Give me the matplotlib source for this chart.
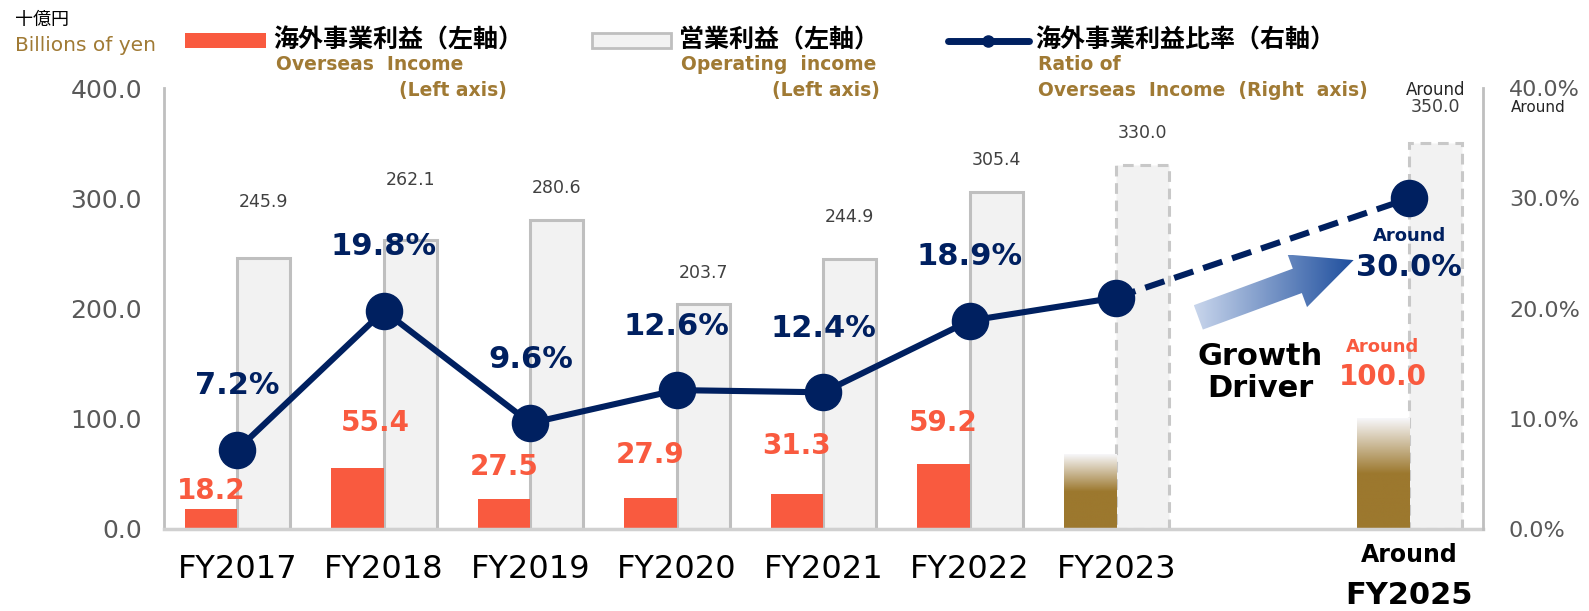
#!/usr/bin/env python3

import matplotlib.pyplot as plt
import numpy as np
from matplotlib.colors import LinearSegmentedColormap
from matplotlib.lines import Line2D
from matplotlib.patches import Polygon, Rectangle
from matplotlib.transforms import blended_transform_factory

categories = ["FY2017", "FY2018", "FY2019", "FY2020", "FY2021", "FY2022", "FY2023", "", "FY2025"]
overseas = [18.2, 55.4, 27.5, 27.9, 31.3, 59.2, 68.0, np.nan, 100.0]       # billions of yen
operating = [245.9, 262.1, 280.6, 203.7, 244.9, 305.4, 330.0, np.nan, 350.0]  # billions of yen
ratio = [7.2, 19.8, 9.6, 12.6, 12.4, 18.9, 21.0, np.nan, 30.0]             # percent
planned = [False, False, False, False, False, False, True, False, True]

RED = "#f95a3f"
GOLD = "#9c782e"
GOLD_TEXT = "#a07a34"
NAVY = "#002060"
GRAY_FILL = "#f2f2f2"
GRAY_EDGE = "#bfbfbf"
TICK = "#595959"

plt.rcParams['font.family'] = ['DejaVu Sans', 'Noto Sans CJK JP']

FADE = LinearSegmentedColormap.from_list("fade", [(0, GOLD), (0.5, GOLD), (1, "#f7f7fa")])
ARROW = LinearSegmentedColormap.from_list("arrow", ["#c9d6ec", "#1f4f9e"])


def fig_xy(x, y):
    """Pixel on the reference picture -> figure fraction."""
    return x / 1568, 1 - y / 603


def gradient_fill(ax, bar):
    """Paint a bar with a gold fade instead of a flat colour."""
    x0, w, h = bar.get_x(), bar.get_width(), bar.get_height()
    ramp = np.linspace(0, 1, 256).reshape(-1, 1)
    ax.imshow(ramp, extent=[x0, x0 + w, 0, h], origin="lower", aspect="auto",
              cmap=FADE, zorder=2)
    bar.set_visible(False)


def gradient_arrow(ax, tail, tip, shaft=26, head=56, head_len=60):
    """
    Fat arrow drawn in pixel space so the shape is not squashed
    by the axis scales, then filled with a blue ramp.
    """
    p0, p1 = ax.transData.transform([tail, tip])
    u = (p1 - p0) / np.hypot(*(p1 - p0))
    n = np.array([-u[1], u[0]])
    base = p1 - u * head_len
    pts = [p0 + n * shaft / 2, base + n * shaft / 2, base + n * head / 2, p1,
           base - n * head / 2, base - n * shaft / 2, p0 - n * shaft / 2]
    pts = ax.transData.inverted().transform(pts)
    poly = Polygon(pts, closed=True, facecolor="none", edgecolor="none")
    ax.add_patch(poly)
    ramp = np.linspace(0, 1, 256).reshape(1, -1)
    im = ax.imshow(ramp, extent=[pts[:, 0].min(), pts[:, 0].max(), pts[:, 1].min(), pts[:, 1].max()],
                   origin="lower", aspect="auto", cmap=ARROW, zorder=4)
    im.set_clip_path(poly)


def draw_legend(fig):
    """Hand made legend along the top, Japanese title over English gloss."""
    fig.text(*fig_xy(15, 20), "十億円", fontsize=13, va="center", family=['Noto Sans CJK JP'])
    fig.text(*fig_xy(15, 45), "Billions of yen", fontsize=14.5, va="center", color=GOLD_TEXT)

    fig.add_artist(Rectangle(fig_xy(183, 47), 79 / 1568, 14 / 603, transform=fig.transFigure,
                             facecolor=RED, edgecolor="none"))
    fig.add_artist(Rectangle(fig_xy(584, 47), 78 / 1568, 14 / 603, transform=fig.transFigure,
                             facecolor=GRAY_FILL, edgecolor=GRAY_EDGE, linewidth=2))
    x0, y0 = fig_xy(935, 40)
    x1, _ = fig_xy(1015, 40)
    fig.add_artist(Line2D([x0, x1], [y0, y0], transform=fig.transFigure, color=NAVY,
                          linewidth=5, solid_capstyle="round"))
    fig.add_artist(Line2D([(x0 + x1) / 2], [y0], transform=fig.transFigure, color=NAVY,
                          marker="o", markersize=8))

    entries = [
        (270, "海外事業利益（左軸）", "Overseas  Income", "(Left axis)", 500),
        (670, "営業利益（左軸）", "Operating  income", "(Left axis)", 868),
        (1022, "海外事業利益比率（右軸）", "Ratio of", "Overseas  Income  (Right  axis)", None),
    ]
    for x, title, line1, line2, right in entries:
        fig.text(*fig_xy(x, 40), title, fontsize=18, fontweight="bold", va="center",
                 family=['Noto Sans CJK JP'])
        fig.text(*fig_xy(x + 2, 64), line1, fontsize=13.5, fontweight="bold", va="center",
                 color=GOLD_TEXT)
        if right is None:
            fig.text(*fig_xy(x + 2, 89), line2, fontsize=13.5, fontweight="bold", va="center",
                     color=GOLD_TEXT)
        else:
            fig.text(*fig_xy(right, 89), line2, fontsize=13.5, fontweight="bold", va="center",
                     ha="right", color=GOLD_TEXT)

    fig.text(*fig_xy(1518, 106), "Around", fontsize=11, ha="center", va="center", color="#262626")


def main():
    fig = plt.figure(figsize=(15.89, 6.11), dpi=100)
    ax = fig.add_axes([0.1033, 0.1343, 0.8297, 0.7214])
    x = np.arange(len(categories))
    offset, width = 0.18, 0.36

    # Operating income, dashed outline for the plan years.
    gray = ax.bar(x + offset, operating, width, color=GRAY_FILL, edgecolor=GRAY_EDGE,
                  linewidth=2.2, zorder=1)
    for bar, dashed in zip(gray, planned):
        if dashed:
            bar.set_linestyle((0, (3.5, 2.2)))
            bar.set_edgecolor("#c8c8c8")

    # Overseas income, plan years fade out at the top.
    red = ax.bar(x - offset, overseas, width, color=RED, zorder=2)

    ax.set_xlim(-0.5, 8.5)
    ax.set_ylim(0, 400)
    for bar, fade in zip(red, planned):
        if fade:
            gradient_fill(ax, bar)

    # Value labels on the bars (offsets in points, dodging the line).
    red_dy = [13, 32, 23, 31, 35, 29]
    red_dx = [0, 13, 0, 0, 0, 0]
    for i, v in enumerate(overseas[:6]):
        ax.annotate(f"{v:.1f}", (x[i] - offset, v), xytext=(red_dx[i], red_dy[i]),
                    textcoords="offset points", ha="center", va="center",
                    fontsize=20, fontweight="bold", color=RED)
    ax.annotate(f"{overseas[-1]:.1f}", (x[-1] - offset, overseas[-1]), xytext=(0, 30),
                textcoords="offset points", ha="center", va="center",
                fontsize=20, fontweight="bold", color=RED)
    ax.annotate("Around", (x[-1] - offset, overseas[-1]), xytext=(0, 52),
                textcoords="offset points", ha="center", va="center",
                fontsize=13, fontweight="bold", color=RED)

    gray_dy = [40, 43, 23, 23, 30, 23, 23, 0, 26]
    for i, v in enumerate(operating):
        if np.isnan(v):
            continue
        ax.annotate(f"{v:.1f}", (x[i] + offset, v), xytext=(0, gray_dy[i]),
                    textcoords="offset points", ha="center", va="center",
                    fontsize=12.5, color="#404040")
    ax.annotate("Around", (x[-1] + offset, operating[-1]), xytext=(0, 38),
                textcoords="offset points", ha="center", va="center",
                fontsize=12, color="#262626")

    gradient_arrow(ax, (6.56, 192), (7.62, 244))
    ax.text(6.98, 142, "Growth\nDriver", ha="center", va="center", fontsize=22,
            fontweight="bold", linespacing=1.15, zorder=5)
    ax.set_xlim(-0.5, 8.5)
    ax.set_ylim(0, 400)

    # Axes dressing.
    ax.set_xticks(x)
    ax.set_xticklabels(categories[:-1] + [""], fontsize=23)
    ax.set_yticks(np.arange(0, 401, 100))
    ax.set_yticklabels([f"{v:.1f}" for v in np.arange(0, 401, 100)], fontsize=18, color=TICK)
    ax.tick_params(axis="x", length=0, pad=18)
    ax.tick_params(axis="y", length=0, pad=16)
    for side in ("top", "right"):
        ax.spines[side].set_visible(False)
    ax.spines["left"].set_color(GRAY_EDGE)
    ax.spines["left"].set_linewidth(2)
    ax.spines["bottom"].set_color("#d0d0d0")
    ax.spines["bottom"].set_linewidth(2.5)

    below = blended_transform_factory(ax.transData, ax.transAxes)
    ax.text(x[-1], -0.06, "Around", transform=below, ha="center", va="center",
            fontsize=17, fontweight="bold")
    ax.text(x[-1], -0.152, categories[-1], transform=below, ha="center", va="center",
            fontsize=22, fontweight="bold")

    # Ratio line on the right axis, dashed into the outlook year.
    ax2 = ax.twinx()
    r = np.array(ratio)
    ok = ~np.isnan(r)
    xs, ys = x[ok], r[ok]
    ax2.plot(xs[:-1], ys[:-1], color=NAVY, linewidth=4.4, zorder=3)
    ax2.plot(xs[-2:], ys[-2:], color=NAVY, linewidth=4.4, linestyle=(0, (3.3, 1.7)), zorder=3)
    ax2.plot(xs, ys, "o", color=NAVY, markersize=26, zorder=4)
    for i, v in enumerate(ratio[:6]):
        ax2.annotate(f"{v:.1f}%", (x[i], v), xytext=(0, 46), textcoords="offset points",
                     ha="center", va="center", fontsize=22, fontweight="bold", color=NAVY)
    ax2.annotate(f"{ratio[-1]:.1f}%", (x[-1], ratio[-1]), xytext=(0, -50), textcoords="offset points",
                 ha="center", va="center", fontsize=22, fontweight="bold", color=NAVY)
    ax2.annotate("Around", (x[-1], ratio[-1]), xytext=(0, -27), textcoords="offset points",
                 ha="center", va="center", fontsize=13, fontweight="bold", color=NAVY)

    ax2.set_ylim(0, 40)
    ax2.set_yticks(np.arange(0, 41, 10))
    ax2.set_yticklabels([f"{v:.1f}%" for v in np.arange(0, 41, 10)], fontsize=16, color=TICK)
    ax2.tick_params(axis="y", length=0, pad=19)
    for side in ("top", "left", "bottom"):
        ax2.spines[side].set_visible(False)
    ax2.spines["right"].set_color(GRAY_EDGE)
    ax2.spines["right"].set_linewidth(2)

    draw_legend(fig)
    fig.savefig("out.png", dpi=100)


if __name__ == "__main__":
    main()
